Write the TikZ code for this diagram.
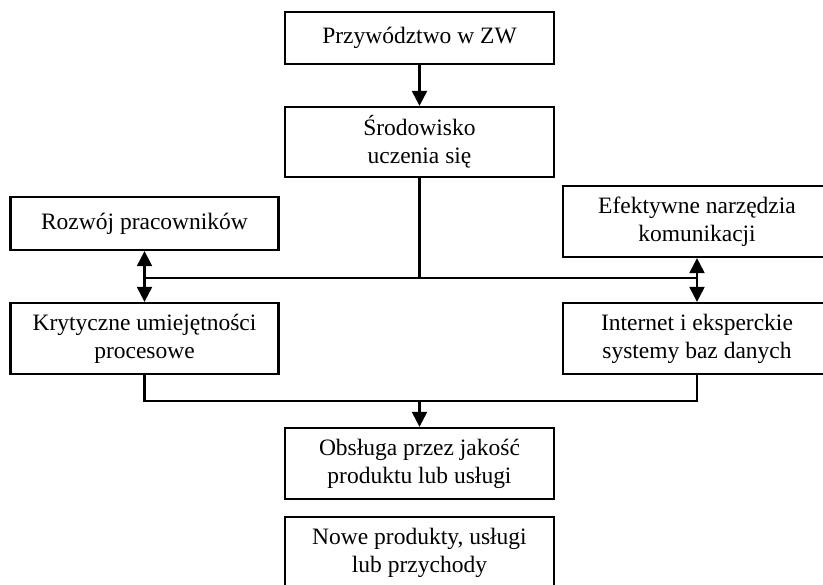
\documentclass[tikz,border=0pt]{standalone}
\usepackage{fontspec}
\setmainfont{Liberation Serif}
\usetikzlibrary{positioning, arrows.meta}

\begin{document}
\begin{tikzpicture}[x=1pt, y=-1pt, line width=2.3pt]
    % Define styles
    \tikzstyle{block} = [rectangle, draw, align=center, inner sep=0pt, minimum width=269pt,
        font=\fontsize{23.5}{28}\selectfont]
    \tikzstyle{arrow} = [-{Triangle[width=15pt, length=15pt]}]
    \tikzstyle{twoway} = [{Triangle[width=15pt, length=15pt]}-{Triangle[width=15pt, length=15pt]}]

    \useasboundingbox (0,0) rectangle (823,585);
    \clip (0,0) rectangle (823,585);

    % Nodes
    \node[block, minimum height=52pt] (lead) at (419.5,38) {Przywództwo w ZW};
    \node[block, minimum height=70pt] (env) at (419.5,142) {Środowisko\\uczenia się};
    \node[block, minimum width=268pt, minimum height=53pt] (staff) at (144.5,223.5) {Rozwój pracowników};
    \node[block, minimum width=268pt, minimum height=71pt] (tools) at (697,221.5) {Efektywne narzędzia\\komunikacji};
    \node[block, minimum width=268pt, minimum height=71pt] (skills) at (144.5,338.5) {Krytyczne umiejętności\\procesowe};
    \node[block, minimum width=268pt, minimum height=71pt] (web) at (697,338.5) {Internet i eksperckie\\systemy baz danych};
    \node[block, minimum height=71pt] (quality) at (419.5,463.5) {Obsługa przez jakość\\produktu lub usługi};
    \node[block, minimum height=71pt] (output) at (419.5,552.5) {Nowe produkty, usługi\\lub przychody};

    \coordinate (midl) at (144.5,278);
    \coordinate (midr) at (697,278);
    \coordinate (lowl) at (144.5,401);
    \coordinate (lowr) at (697,401);

    % Connections
    \draw[arrow] (lead) -- (env);
    \draw (env.south) -- (env.south |- midl);
    \draw (midl) -- (midr);
    \draw[twoway] (staff.south) -- (skills.north);
    \draw[twoway] (tools.south) -- (web.north);
    \draw (skills.south) -- (lowl) -- (lowr) -- (web.south);
    \draw[arrow] (quality.north |- lowl) -- (quality.north);
\end{tikzpicture}
\end{document}
